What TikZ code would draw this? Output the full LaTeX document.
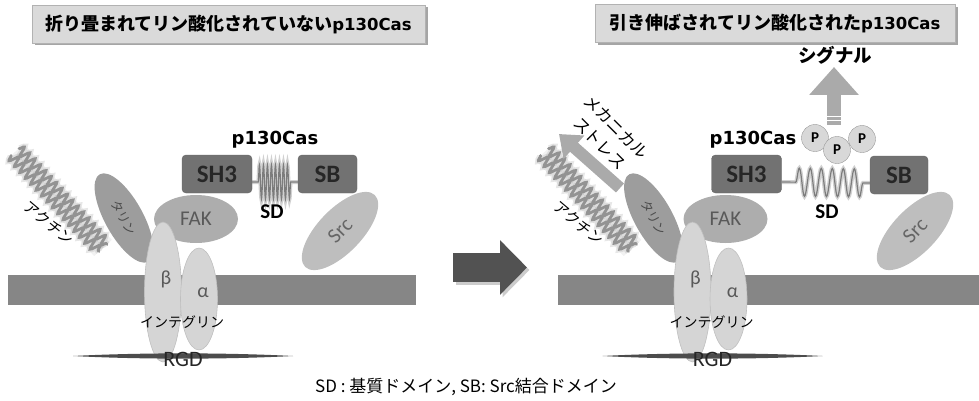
\documentclass[tikz,border=0pt]{standalone}
\usepackage{fontspec}
\setmainfont{Carlito}
\newfontfamily\jp{Noto Sans CJK JP}
\newfontfamily\dvs{DejaVu Sans}
\usetikzlibrary{shapes.geometric,arrows.meta,decorations.pathmorphing,shadows}

\definecolor{membranegray}{HTML}{868686}
\definecolor{talingray}{HTML}{9D9D9D}
\definecolor{fakgray}{HTML}{ADADAD}
\definecolor{srcgray}{HTML}{BEBEBE}
\definecolor{integgray}{HTML}{D5D5D5}
\definecolor{domaingray}{HTML}{727272}
\definecolor{springgray}{HTML}{7C7C7C}
\definecolor{actingray}{HTML}{939393}
\definecolor{arrowdark}{HTML}{525252}
\definecolor{arrowlight}{HTML}{AAAAAA}
\definecolor{titlegray}{HTML}{DADADA}
\definecolor{pgray}{HTML}{D8D8D8}

\newcommand\cas[1]{{\dvs\bfseries\fontsize{#1}{#1}\selectfont p130Cas}}

\tikzset{
  titlebox/.style={draw=black!30, fill=titlegray, minimum height=38pt, inner sep=0pt,
    drop shadow={shadow xshift=2.5pt, shadow yshift=-2.5pt, opacity=.5, fill=black!70},
    font=\jp\bfseries\fontsize{18}{18}\selectfont},
  blob/.style={ellipse, inner sep=0pt},
  integrin/.style={blob, fill=integgray, draw=black!25, line width=.6pt},
  domainbox/.style={draw=black!60, fill=domaingray, rounded corners=4pt, minimum height=38pt,
    font=\bfseries\fontsize{25}{25}\selectfont, text=black!85},
  srcblob/.style={blob, fill=srcgray, rotate=46, minimum width=100pt, minimum height=44pt,
    font=\fontsize{21}{21}\selectfont, text=black!60},
  sdlabel/.style={font=\bfseries\fontsize{21}{21}\selectfont},
  jplabel/.style={font=\jp\fontsize{#1}{#1}\selectfont},
  jplabel/.default=14,
  greek/.style={font=\fontsize{20}{20}\selectfont, text=black!65},
  actin/.style={draw=actingray, line width=2.8pt, line cap=round, decorate},
  actinfuzz/.style={draw=actingray, line width=6.5pt, draw opacity=.22, decorate},
  strandA/.style={decoration={snake, amplitude=5pt, segment length=8pt}},
  strandB/.style={decoration={snake, amplitude=-5pt, segment length=8pt}},
  spring/.style={draw=springgray, line width=1.2pt, decorate},
  springfuzz/.style={draw=springgray, line width=4pt, draw opacity=.35, decorate},
  coilshut/.style={decoration={snake, amplitude=17pt, segment length=4pt,
    pre length=6pt, post length=6pt}},
  coilopen/.style={decoration={snake, amplitude=14pt, segment length=11pt,
    pre length=14pt, post length=4pt}},
  pdot/.style={circle, draw=black!40, fill=pgray, minimum size=27pt, inner sep=0pt,
    font=\bfseries\fontsize{15}{15}\selectfont},
}

% actin, talin, FAK, SH3 and integrin, same in both halves
\newcommand\adhesion{%
  \coordinate (a1) at (15,152);
  \coordinate (a2) at (103,248);
  \draw[actingray, line width=24pt, opacity=.12] (a1) -- (a2);
  \draw[actinfuzz, strandA] ([shift={(4,-3.5)}]a1) -- ([shift={(4,-3.5)}]a2);
  \draw[actinfuzz, strandB] ([shift={(-4,3.5)}]a1) -- ([shift={(-4,3.5)}]a2);
  \draw[actin, strandA] ([shift={(4,-3.5)}]a1) -- ([shift={(4,-3.5)}]a2);
  \draw[actin, strandB] ([shift={(-4,3.5)}]a1) -- ([shift={(-4,3.5)}]a2);
  \node[jplabel=15, rotate=-40] (actinlabel) at (49,223) {アクチン};
  \node[blob, fill=talingray, rotate=-61, minimum width=100pt, minimum height=38pt,
    jplabel=12.5, text=black!70] (talin) at (124,218) {タリン};
  \node[blob, fill=fakgray, minimum width=84pt, minimum height=48pt,
    font=\fontsize{21}{21}\selectfont, text=black!65] (fak) at (196,219) {FAK};
  \node[domainbox, minimum width=70pt] (sh3) at (217,174) {SH3};
  \node[integrin, minimum width=37pt, minimum height=140pt] (beta) at (163,292) {};
  \node[integrin, minimum width=37pt, minimum height=102pt] (alpha) at (199,299) {};
  \node[greek] (betalabel) at (166,279) {β};
  \node[greek] (alphalabel) at (203,293) {α};
  \node[jplabel] (integrinlabel) at (182,322) {インテグリン};
  % RGD
  \fill[black!70] (73,356) .. controls (140,352.5) and (226,352.5) .. (293,356)
    .. controls (226,359.5) and (140,359.5) .. cycle;
  \node[font=\fontsize{22}{22}\selectfont, text=black!85] (rgd) at (183,359) {RGD};
}

\begin{document}
\begin{tikzpicture}[x=1pt, y=-1pt]
  \useasboundingbox (0,0) rectangle (979,401);

  % titles
  \node[titlebox, minimum width=393pt] (Ltitle) at (228.5,24)
    {折り畳まれてリン酸化されていない\cas{16.5}};
  \node[titlebox, minimum width=360pt] (Rtitle) at (775,23.5)
    {引き伸ばされてリン酸化された\cas{16.5}};

  % membrane
  \fill[membranegray] (8,275) rectangle (416,305);
  \fill[membranegray] (558,275) rectangle (985,305);

  \begin{scope}[name prefix=L]
    \adhesion
  \end{scope}
  \begin{scope}[shift={(529.5,0)}, name prefix=R]
    \adhesion
  \end{scope}

  % folded p130Cas
  \node[srcblob] (Lsrc) at (340,231) {Src};
  \node[domainbox, minimum width=59pt] (Lsb) at (327.5,174) {SB};
  \draw[springfuzz, coilshut] ([yshift=-8pt]Lsh3.east) -- ([yshift=-8pt]Lsb.west);
  \draw[spring, coilshut] ([yshift=-8pt]Lsh3.east) -- ([yshift=-8pt]Lsb.west);
  \node[sdlabel] (Lsd) at (272,212) {SD};
  \node (Lcas) at (275,140) {\cas{18}};

  % stretched p130Cas
  \node[srcblob] (Rsrc) at (915,231) {Src};
  \node[domainbox, minimum width=58pt] (Rsb) at (899,175) {SB};
  \draw[springfuzz, coilopen] ([yshift=-8pt]Rsh3.east) -- ([yshift=-8pt]Rsb.west);
  \draw[spring, coilopen] ([yshift=-8pt]Rsh3.east) -- ([yshift=-8pt]Rsb.west);
  \node[sdlabel] (Rsd) at (827,212) {SD};
  \node (Rcas) at (753,140) {\cas{18}};

  % signal
  \coordinate (sigfrom) at (834,125);
  \coordinate (sigto) at (834,67);
  \draw[arrowlight, line width=14pt, -{Triangle[width=48pt,length=28pt]}] (sigfrom) -- (sigto);
  \draw[white, line width=.8pt] (827,116) -- (841,116) (827,120) -- (841,120);
  \node[font=\jp\bfseries\fontsize{18.5}{18.5}\selectfont] (signal) at (835,55) {シグナル};
  \node[pdot] (P1) at (815,138) {P};
  \node[pdot] (P3) at (862,139) {P};
  \node[pdot] (P2) at (837,150) {P};

  % mechanical stress
  \coordinate (msfrom) at (620,188);
  \coordinate (msto) at (559,134);
  \draw[arrowlight, line width=12pt, -{Triangle[width=30pt,length=20pt]}] (msfrom) -- (msto);
  \node[jplabel=16.5, rotate=-45, align=center] (stress) at (608,135)
    {メカニカル\\[6pt]ストレス};

  % between the two states
  \coordinate (go1) at (453,267.5);
  \coordinate (go2) at (527,267.5);
  \draw[black!40, opacity=.5, line width=29pt, -{Triangle[width=53pt,length=27pt]}]
    ([shift={(2.5,2.5)}]go1) -- ([shift={(2.5,2.5)}]go2);
  \draw[arrowdark, line width=29pt, -{Triangle[width=53pt,length=27pt]}] (go1) -- (go2);

  \node[jplabel=17] (legend) at (466,387) {SD : 基質ドメイン, SB: Src結合ドメイン};
\end{tikzpicture}
\end{document}
